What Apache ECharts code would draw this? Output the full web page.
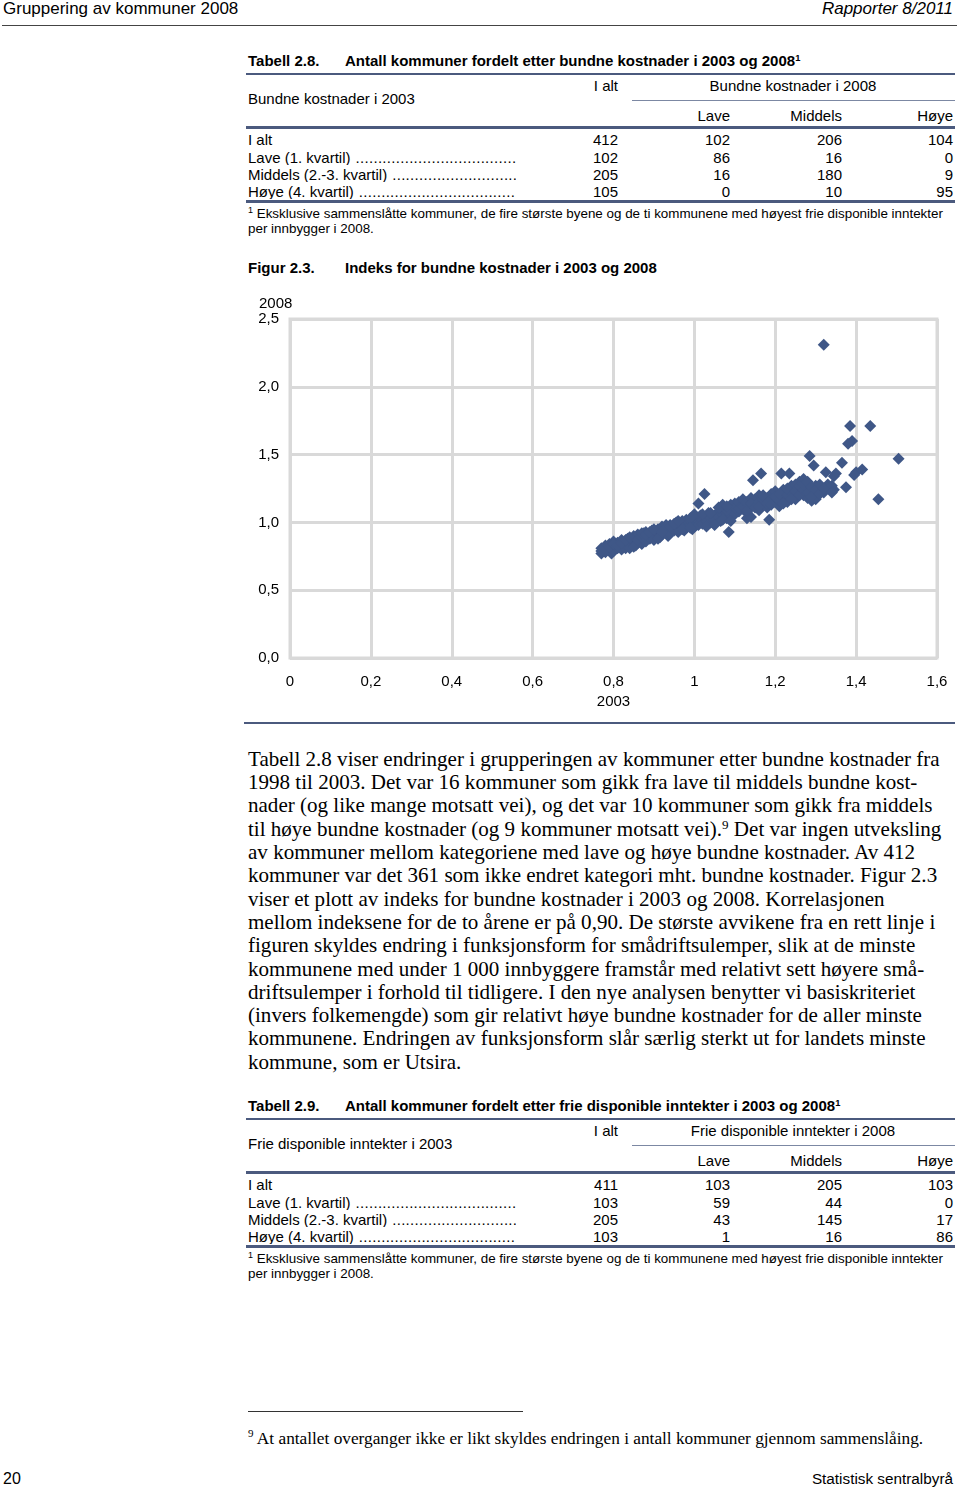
<!DOCTYPE html>
<html><head><meta charset="utf-8">
<script src="https://cdn.jsdelivr.net/npm/echarts@6/dist/echarts.min.js"></script>
<style>
html,body{margin:0;padding:0;background:#fff}
body{width:960px;height:1489px;position:relative;overflow:hidden;font-family:"Liberation Sans",Arial,sans-serif;color:#000}
.t{position:absolute;white-space:nowrap;line-height:1}
.ln{position:absolute}
.pl{position:absolute;left:248px;font-family:"Liberation Serif","Times New Roman",serif;font-size:21.05px;line-height:23.3px;height:23.3px;white-space:nowrap}
.lbl{position:absolute;left:248px;width:268px;display:flex;white-space:nowrap;overflow:hidden;line-height:1;font-size:15px}
.lbl .d{flex:1;overflow:hidden;margin-left:5px;letter-spacing:0.3px}
sup.s{font-size:0.62em;vertical-align:0;position:relative;top:-0.5em;line-height:0}
</style></head>
<body>
<div id="chart" style="position:absolute;left:240px;top:285px;width:720px;height:430px"></div>
<script>
// ---------- Data ----------
const xTicks = [0, 0.2, 0.4, 0.6, 0.8, 1, 1.2, 1.4, 1.6];
const yTicks = [0, 0.5, 1.0, 1.5, 2.0, 2.5];
// Index for bundne kostnader 2003 (x) and 2008 (y), estimated from the figure
const idx2003 = [
0.77,0.77,0.775,0.78,0.78,0.79,0.79,0.795,0.80,0.80,0.80,
0.81,0.81,0.815,0.82,0.82,0.82,0.83,0.83,0.835,0.84,0.84,0.84,
0.85,0.85,0.855,0.86,0.86,0.86,0.87,0.87,0.875,0.88,0.88,0.88,
0.89,0.89,0.895,0.90,0.90,0.90,0.91,0.91,0.915,0.92,0.92,0.92,
0.93,0.93,0.935,0.94,0.94,0.94,0.95,0.95,0.955,0.96,0.96,0.96,
0.97,0.97,0.975,0.98,0.98,0.98,0.99,0.99,0.995,1.00,1.00,1.00,
1.01,1.01,1.015,1.02,1.02,1.03,1.03,1.035,1.04,1.04,1.05,1.05,
1.06,1.06,1.065,1.07,1.07,1.08,1.08,1.09,1.09,1.10,1.10,1.10,
1.11,1.11,1.12,1.12,1.13,1.13,1.13,1.14,1.14,1.15,1.15,1.16,1.16,1.17,
1.18,1.18,1.19,1.20,1.20,1.21,1.22,1.22,1.23,1.24,1.24,1.25,
1.26,1.26,1.27,1.27,1.28,1.28,1.29,1.29,1.30,1.30,1.30,1.31,1.32,1.33,
1.32,1.385,1.435,1.38,1.39,1.505,1.285,1.295,1.325,1.365,1.35,1.345,1.40,1.415,1.395,1.375,1.455,
1.145,1.165,1.215,1.235,1.01,1.025,1.085,1.185,1.345,1.33,
1.08,1.09,1.10,1.11,1.11,1.12,1.12,1.13,1.13,1.14,1.14,1.15,1.16,1.16,1.17,1.17,1.18,1.19,1.19,1.20,1.21,
1.21,1.22,1.23,1.23,1.24,1.25,1.25,1.26,1.26,1.27,1.27,1.28,1.28,1.29,1.29,1.30,1.31,1.31,1.32,1.34,1.34,
1.00,1.02,1.03,1.04,1.05,1.06,1.07,1.07,1.08,1.09,
0.77,0.78,0.79,0.80,0.81,0.82,0.83,0.84,0.85,0.86,0.87,0.87,
0.88,0.89,0.90,0.91,0.92,0.93,0.94,0.95,0.96,0.97,0.99,0.99
];
const idx2008 = [
0.77,0.81,0.79,0.83,0.78,0.80,0.84,0.77,0.82,0.86,0.79,
0.81,0.85,0.83,0.80,0.87,0.83,0.85,0.81,0.88,0.84,0.87,0.81,
0.86,0.90,0.83,0.88,0.85,0.91,0.87,0.84,0.92,0.89,0.86,0.93,
0.88,0.91,0.94,0.90,0.87,0.93,0.92,0.95,0.89,0.94,0.91,0.97,
0.93,0.96,0.90,0.98,0.95,0.92,0.97,0.94,1.00,0.96,0.99,0.93,
0.97,1.01,0.94,0.99,0.96,1.02,0.98,1.01,0.95,1.03,1.00,0.97,
1.01,0.98,1.05,1.02,0.99,1.04,1.01,1.07,1.03,1.00,1.05,1.02,
1.08,1.04,1.01,1.06,1.10,1.03,1.07,1.11,1.05,1.09,1.14,1.06,
1.12,1.08,1.15,1.10,1.07,1.13,1.03,1.11,1.04,1.17,1.13,1.09,1.20,1.14,
1.18,1.11,1.21,1.15,1.23,1.12,1.18,1.24,1.15,1.21,1.27,1.17,
1.24,1.30,1.20,1.32,1.26,1.18,1.23,1.16,1.27,1.20,1.17,1.25,1.22,1.28,
2.31,1.71,1.71,1.58,1.60,1.47,1.49,1.42,1.37,1.44,1.36,1.34,1.37,1.39,1.35,1.26,1.17,
1.31,1.36,1.36,1.36,1.14,1.21,0.93,1.02,1.24,1.26,
1.09,1.13,1.11,1.15,1.10,1.12,1.17,1.09,1.15,1.18,1.14,1.11,1.15,1.12,1.17,1.20,1.14,1.17,1.13,1.19,1.16,
1.21,1.14,1.20,1.25,1.17,1.23,1.28,1.20,1.27,1.24,1.28,1.22,1.30,1.26,1.19,1.24,1.21,1.28,1.25,1.27,1.22,
1.06,1.06,0.97,1.07,0.98,1.11,1.02,1.13,1.12,1.01,
0.79,0.80,0.82,0.84,0.83,0.85,0.87,0.89,0.82,0.87,0.89,0.92,
0.91,0.93,0.95,0.88,0.93,0.98,0.97,0.99,1.01,0.95,1.03,0.96
];

// Table 2.8
const t28Rows   = ['I alt', 'Lave (1. kvartil)', 'Middels (2.-3. kvartil)', 'Høye (4. kvartil)'];
const t28Total  = [412, 102, 205, 105];
const t28Lave   = [102, 86, 16, 0];
const t28Middels= [206, 16, 180, 10];
const t28Hoye   = [104, 0, 9, 95];
// Table 2.9
const t29Rows   = ['I alt', 'Lave (1. kvartil)', 'Middels (2.-3. kvartil)', 'Høye (4. kvartil)'];
const t29Total  = [411, 103, 205, 103];
const t29Lave   = [103, 59, 43, 1];
const t29Middels= [205, 44, 145, 16];
const t29Hoye   = [103, 0, 17, 86];

const paragraph = [
 'Tabell 2.8 viser endringer i grupperingen av kommuner etter bundne kostnader fra',
 '1998 til 2003. Det var 16 kommuner som gikk fra lave til middels bundne kost-',
 'nader (og like mange motsatt vei), og det var 10 kommuner som gikk fra middels',
 'til høye bundne kostnader (og 9 kommuner motsatt vei).<sup class="s">9</sup> Det var ingen utveksling',
 'av kommuner mellom kategoriene med lave og høye bundne kostnader. Av 412',
 'kommuner var det 361 som ikke endret kategori mht. bundne kostnader. Figur 2.3',
 'viser et plott av indeks for bundne kostnader i 2003 og 2008. Korrelasjonen',
 'mellom indeksene for de to årene er på 0,90. De største avvikene fra en rett linje i',
 'figuren skyldes endring i funksjonsform for smådriftsulemper, slik at de minste',
 'kommunene med under 1 000 innbyggere framstår med relativt sett høyere små-',
 'driftsulemper i forhold til tidligere. I den nye analysen benytter vi basiskriteriet',
 '(invers folkemengde) som gir relativt høye bundne kostnader for de aller minste',
 'kommunene. Endringen av funksjonsform slår særlig sterkt ut for landets minste',
 'kommune, som er Utsira.'
];

// ---------- Helpers ----------
const SANS = '"Liberation Sans", Arial, sans-serif';
const SERIF = '"Liberation Serif", "Times New Roman", serif';
const BLUE = '#4b5a7e';
function T(x, cy, s, o) {
  o = o || {};
  const d = document.createElement('div'); d.className = 't';
  const fs = o.fs || 15;
  d.style.fontSize = fs + 'px';
  if (o.b) d.style.fontWeight = 'bold';
  if (o.i) d.style.fontStyle = 'italic';
  if (o.serif) d.style.fontFamily = SERIF;
  d.style.top = (cy - (o.serif ? 0.52 : 0.53) * fs) + 'px';
  if (o.a === 'r') d.style.right = (960 - x) + 'px';
  else if (o.a === 'c') { d.style.left = x + 'px'; d.style.transform = 'translateX(-50%)'; }
  else d.style.left = x + 'px';
  d.innerHTML = s; document.body.appendChild(d); return d;
}
function L(x1, y, x2, h, c) {
  const d = document.createElement('div'); d.className = 'ln';
  d.style.left = x1 + 'px'; d.style.top = (y - h / 2) + 'px';
  d.style.width = (x2 - x1) + 'px'; d.style.height = h + 'px'; d.style.background = c;
  document.body.appendChild(d);
}
function rowLabel(cy, s, dots) {
  const d = document.createElement('div'); d.className = 'lbl';
  d.style.top = (cy - 0.53 * 15) + 'px';
  d.innerHTML = '<span>' + s + '</span>' + (dots ? '<span class="d">' + '.'.repeat(80) + '</span>' : '');
  document.body.appendChild(d);
}
function table(off, title, colHead, stub, rows, tot, lave, mid, hoy) {
  T(248, 61 + off, 'Tabell ' + title[0], { b: 1 });
  T(345, 61 + off, title[1] + '<sup class="s">1</sup>', { b: 1 });
  L(246, 74 + off, 955, 2.5, BLUE);
  T(618, 86 + off, 'I alt', { a: 'r' });
  T(793, 86 + off, colHead, { a: 'c' });
  T(248, 99 + off, stub);
  L(632, 100.5 + off, 955, 1.5, '#7c88a3');
  T(730, 116 + off, 'Lave', { a: 'r' });
  T(842, 116 + off, 'Middels', { a: 'r' });
  T(953, 116 + off, 'Høye', { a: 'r' });
  L(246, 127.5 + off, 955, 2.5, BLUE);
  const ry = [140, 157.5, 174.5, 192];
  rows.forEach((r, i) => {
    rowLabel(ry[i] + off, r, i > 0);
    T(618, ry[i] + off, String(tot[i]), { a: 'r' });
    T(730, ry[i] + off, String(lave[i]), { a: 'r' });
    T(842, ry[i] + off, String(mid[i]), { a: 'r' });
    T(953, ry[i] + off, String(hoy[i]), { a: 'r' });
  });
  L(246, 201.5 + off, 955, 3, BLUE);
  T(248, 214 + off, '<sup class="s" style="font-size:9px;top:-5px">1</sup> Eksklusive sammenslåtte kommuner, de fire største byene og de ti kommunene med høyest frie disponible inntekter', { fs: 13.4 });
  T(248, 229 + off, 'per innbygger i 2008.', { fs: 13.4 });
}

// ---------- Page ----------
T(3, 8.5, 'Gruppering av kommuner 2008', { fs: 17 });
T(953, 8.5, 'Rapporter 8/2011', { fs: 17, i: 1, a: 'r' });
L(2, 25.5, 957, 1.6, '#444');

table(0, ['2.8.', 'Antall kommuner fordelt etter bundne kostnader i 2003 og 2008'],
  'Bundne kostnader i 2008', 'Bundne kostnader i 2003', t28Rows, t28Total, t28Lave, t28Middels, t28Hoye);

T(248, 268, 'Figur 2.3.', { b: 1 });
T(345, 268, 'Indeks for bundne kostnader i 2003 og 2008', { b: 1 });
L(244, 723, 955, 2.5, BLUE);

paragraph.forEach((s, i) => {
  const d = document.createElement('div');
  d.className = 'pl';
  d.style.top = (747.8 + i * 23.3) + 'px';
  d.innerHTML = s;
  document.body.appendChild(d);
});

table(1045, ['2.9.', 'Antall kommuner fordelt etter frie disponible inntekter i 2003 og 2008'],
  'Frie disponible inntekter i 2008', 'Frie disponible inntekter i 2003', t29Rows, t29Total, t29Lave, t29Middels, t29Hoye);

L(248, 1411.5, 523, 1.5, '#333');
T(248, 1439, '<sup class="s" style="font-size:11px;top:-7px">9</sup> At antallet overganger ikke er likt skyldes endringen i antall kommuner gjennom sammenslåing.', { fs: 17.3, serif: 1 });

T(3, 1479, '20', { fs: 16 });
T(953, 1479, 'Statistisk sentralbyrå', { fs: 15.3, a: 'r' });

// ---------- Chart ----------
const chart = echarts.init(document.getElementById('chart'), null, { renderer: 'canvas' });
const fmt = v => String(+v.toFixed(1)).replace('.', ',');
const fmtY = v => v.toFixed(1).replace('.', ',');
chart.setOption({
  animation: false,
  textStyle: { fontFamily: SANS },
  grid: { left: 50, top: 34, right: 23, bottom: 57, show: true, borderColor: '#d9d9d9', borderWidth: 3 },
  xAxis: {
    type: 'value', min: xTicks[0], max: xTicks[xTicks.length - 1], interval: 0.2,
    name: '2003', nameLocation: 'middle', nameGap: 30,
    nameTextStyle: { fontSize: 15, color: '#000', fontFamily: SANS },
    axisLine: { show: false }, axisTick: { show: false },
    axisLabel: { margin: 16, fontSize: 15, color: '#000', fontFamily: SANS, formatter: fmt },
    splitLine: { show: true, lineStyle: { color: '#d9d9d9', width: 3 } }
  },
  yAxis: {
    type: 'value', min: yTicks[0], max: yTicks[yTicks.length - 1], interval: 0.5,
    axisLine: { show: false }, axisTick: { show: false },
    axisLabel: { margin: 11, fontSize: 15, color: '#000', fontFamily: SANS, formatter: fmtY },
    splitLine: { show: true, lineStyle: { color: '#d9d9d9', width: 3 } }
  },
  graphic: [{ type: 'text', left: 19, top: 11, style: { text: '2008', fontSize: 15, fill: '#000', fontFamily: SANS } }],
  series: [{
    type: 'scatter', symbol: 'diamond', symbolSize: 12,
    itemStyle: { color: '#3f5787', opacity: 1 },
    data: idx2003.map((x, i) => [x, idx2008[i]])
  }]
});
</script>
</body></html>
